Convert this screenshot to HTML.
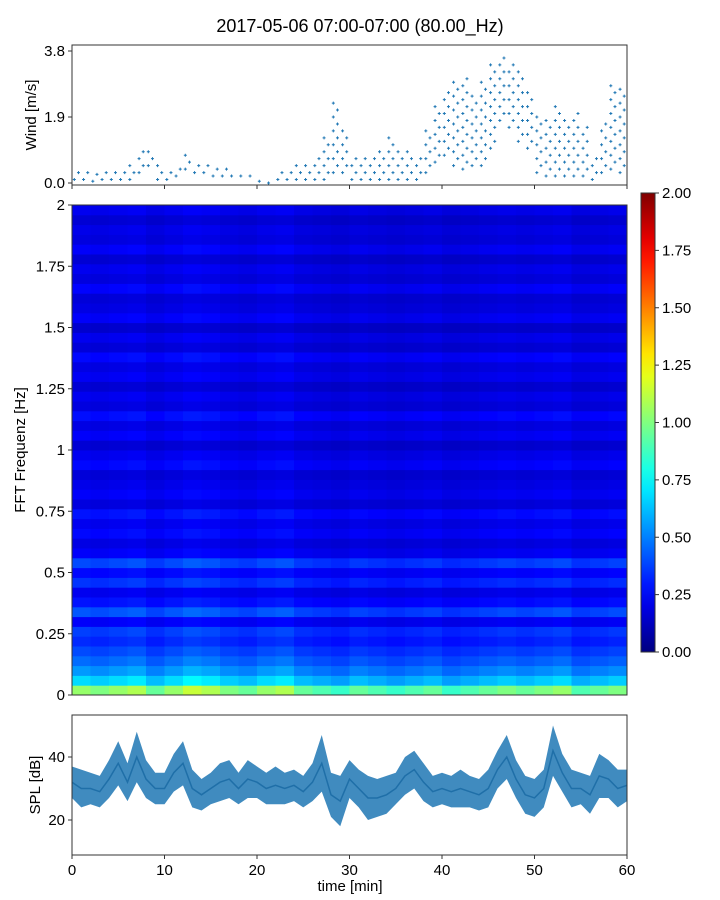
<!DOCTYPE html>
<html><head><meta charset="utf-8"><style>
body{margin:0;background:#fff;}
svg{display:block;font-family:"Liberation Sans","DejaVu Sans",sans-serif;}
</style></head><body>
<svg id="fig" width="720" height="900" viewBox="0 0 720 900">
<text x="360" y="32" text-anchor="middle" font-size="18">2017-05-06 07:00-07:00 (80.00_Hz)</text>
<g id="wind"></g>
<g id="spec"></g>
<g id="cbar"></g>
<g id="spl"></g>
</svg>
<script>
// ---- data ----
const windLo=[0.1,0.1,0.05,0.1,0.1,0.1,0.1,0.3,0.5,0.1,0.1,0.2,0.4,0.3,0.3,0.2,0.2,0.2,0.2,0.2,0.05,0.0,0.1,0.1,0.1,0.1,0.1,0.1,0.3,0.3,0.1,0.1,0.1,0.1,0.1,0.1,0.1,0.1,0.3,0.6,0.8,0.5,0.4,0.5,0.5,1.0,1.8,1.6,1.2,1.0,0.3,0.2,0.2,0.2,0.2,0.2,0.1,0.3,0.4,0.3];
const windHi=[0.3,0.35,0.35,0.3,0.4,0.4,0.5,0.9,1.0,0.5,0.3,0.4,0.8,0.6,0.5,0.5,0.5,0.35,0.35,0.3,0.2,0.1,0.3,0.4,0.5,0.6,0.8,1.3,2.4,1.5,0.8,0.7,0.8,1.0,1.4,1.0,1.0,0.8,1.5,2.2,2.7,3.0,3.0,2.6,2.9,3.4,3.6,3.5,3.3,2.6,2.0,1.9,2.2,1.9,2.0,1.6,0.8,1.8,2.8,2.8];
const windTicks=[0.0,1.9,3.8];
const freqProfile=[0.95,0.62,0.5,0.42,0.36,0.3,0.34,0.22,0.38,0.26,0.2,0.32,0.24,0.36,0.22,0.18,0.24,0.2,0.26,0.17,0.22,0.19,0.16,0.24,0.2,0.15,0.22,0.18,0.25,0.17,0.2,0.15,0.21,0.18,0.24,0.16,0.2,0.14,0.22,0.18,0.16,0.23,0.17,0.2,0.15,0.22,0.17,0.19,0.15,0.2];
const timeProfile=[1.1,1.05,1.1,1.15,1.0,1.1,1.2,1.15,1.05,1.0,1.1,1.15,1.0,0.95,0.9,1.0,0.95,0.9,0.95,1.0,0.9,0.95,1.0,1.05,1.0,1.05,1.1,0.95,1.0,1.05];
const freqTicks=["0","0.25","0.5","0.75","1","1.25","1.5","1.75","2"];
const cbarTicks=["0.00","0.25","0.50","0.75","1.00","1.25","1.50","1.75","2.00"];
const splMean=[32,30,30,29,33,38,32,40,33,30,30,35,38,30,28,30,32,33,30,33,32,30,31,30,31,29,32,38,28,26,33,30,27,27,28,30,34,36,32,29,30,29,30,29,28,30,36,40,33,28,27,30,42,35,30,30,28,34,33,30,31];
const splSpread=[5,6,5,5,6,7,6,8,6,5,5,6,7,6,5,5,6,6,5,6,5,5,6,5,5,5,6,9,7,8,6,6,7,6,6,5,6,6,6,5,5,5,6,5,5,6,6,7,6,6,6,6,8,6,6,5,6,7,6,6,5];
const splTicks=[20,40];
const timeTicks=[0,10,20,30,40,50,60];
// ---- helpers ----
const NS="http://www.w3.org/2000/svg";
function mk(tag,attrs,parent){const e=document.createElementNS(NS,tag);for(const k in attrs)e.setAttribute(k,attrs[k]);parent.appendChild(e);return e;}
const X0=72,X1=627;
const xs=t=>X0+(t/60)*(X1-X0);
function jet(v){v=Math.max(0,Math.min(1,v));
 const r=Math.max(0,Math.min(1,Math.min(4*v-1.5,-4*v+4.5)));
 const g=Math.max(0,Math.min(1,Math.min(4*v-0.5,-4*v+3.5)));
 const b=Math.max(0,Math.min(1,Math.min(4*v+0.5,-4*v+2.5)));
 return `rgb(${Math.round(r*255)},${Math.round(g*255)},${Math.round(b*255)})`;}
// ---- wind panel ----
const W=document.getElementById('wind');
const wy=v=>183-(v/3.8)*(183-51);
for(let i=0;i<60;i++){
 let j=0;
 for(let v=windLo[i];v<=windHi[i]+0.001;v+=0.2){
  const x=xs(i+((j%2)?0.7:0.25)), y=wy(v);
  j++;
  const p=mk('path',{d:`M${x-1.5},${y}h3M${x},${y-1.5}v3`,stroke:'#1f77b4','stroke-width':1},W);
  
  
 }
}
let r=mk('rect',{x:X0,y:45,width:X1-X0,height:140,fill:'none',stroke:'#333','stroke-width':1},W);

windTicks.forEach(v=>{const y=wy(v);mk('line',{x1:X0-4,x2:X0,y1:y,y2:y,stroke:'#333'},W);
 const t=mk('text',{x:X0-7,y:y+5,'text-anchor':'end','font-size':15},W);t.textContent=v.toFixed(1);
 });
timeTicks.forEach(v=>mk('line',{x1:xs(v),x2:xs(v),y1:185,y2:189,stroke:'#333'},W));
let tl=mk('text',{transform:'translate(36,115) rotate(-90)','text-anchor':'middle','font-size':15},W);tl.textContent='Wind [m/s]';

// ---- spectrogram ----
const S=document.getElementById('spec');
const SY0=205,SY1=695;
const fy=f=>SY1-(f/2)*(SY1-SY0);
const nc=timeProfile.length,nr=freqProfile.length;
for(let c=0;c<nc;c++)for(let k=0;k<nr;k++){
 const v=freqProfile[k]*timeProfile[c];
 const y0=fy((k+1)*2/nr),y1=fy(k*2/nr);
 const cell=mk('rect',{x:xs(c*60/nc),y:y0,width:(X1-X0)/nc+0.5,height:y1-y0+0.5,fill:jet(v/2)},S);
 
}
r=mk('rect',{x:X0,y:SY0,width:X1-X0,height:SY1-SY0,fill:'none',stroke:'#333'},S);

freqTicks.forEach((s,i)=>{const y=fy(i*0.25);mk('line',{x1:X0-4,x2:X0,y1:y,y2:y,stroke:'#333'},S);
 const t=mk('text',{x:X0-7,y:y+5,'text-anchor':'end','font-size':15},S);t.textContent=s;
 });
tl=mk('text',{transform:'translate(25,450) rotate(-90)','text-anchor':'middle','font-size':15},S);tl.textContent='FFT Frequenz [Hz]';

// ---- colorbar ----
const C=document.getElementById('cbar');
const CY0=193,CY1=652;
const defs=mk('defs',{},C);
const gr=mk('linearGradient',{id:'jetg',x1:0,y1:1,x2:0,y2:0},defs);
for(let i=0;i<=20;i++)mk('stop',{offset:i/20,'stop-color':jet(i/20)},gr);
r=mk('rect',{x:641,y:CY0,width:14,height:CY1-CY0,fill:'url(#jetg)',stroke:'#333'},C);

cbarTicks.forEach((s,i)=>{const y=CY1-(i/8)*(CY1-CY0);mk('line',{x1:655,x2:659,y1:y,y2:y,stroke:'#333'},C);
 const t=mk('text',{x:662,y:y+5,'font-size':15},C);t.textContent=s;
 });
// ---- SPL ----
const P=document.getElementById('spl');
const PY0=715,PY1=855;
const py=v=>820-(v-20)*(820-757)/20;
let d='';
splMean.forEach((m,i)=>{d+=(i?'L':'M')+xs(i)+','+py(m+splSpread[i]);});
for(let i=splMean.length-1;i>=0;i--)d+='L'+xs(i)+','+py(splMean[i]-splSpread[i]);
const band=mk('path',{d:d+'Z',fill:'#1f77b4','fill-opacity':0.85},P);

let dl='';splMean.forEach((m,i)=>{dl+=(i?'L':'M')+xs(i)+','+py(m);});
const ln=mk('path',{d:dl,fill:'none',stroke:'#1f6fa8','stroke-width':1.5},P);

r=mk('rect',{x:X0,y:PY0,width:X1-X0,height:PY1-PY0,fill:'none',stroke:'#333'},P);

splTicks.forEach(v=>{const y=py(v);mk('line',{x1:X0-4,x2:X0,y1:y,y2:y,stroke:'#333'},P);
 const t=mk('text',{x:X0-7,y:y+5,'text-anchor':'end','font-size':15},P);t.textContent=v;
 });
timeTicks.forEach(v=>{mk('line',{x1:xs(v),x2:xs(v),y1:PY1,y2:PY1+4,stroke:'#333'},P);
 const t=mk('text',{x:xs(v),y:PY1+20,'text-anchor':'middle','font-size':15},P);t.textContent=v;
 });
tl=mk('text',{transform:'translate(40,785) rotate(-90)','text-anchor':'middle','font-size':15},P);tl.textContent='SPL [dB]';

tl=mk('text',{x:350,y:891,'text-anchor':'middle','font-size':15},P);tl.textContent='time [min]';

</script>
</body></html>
